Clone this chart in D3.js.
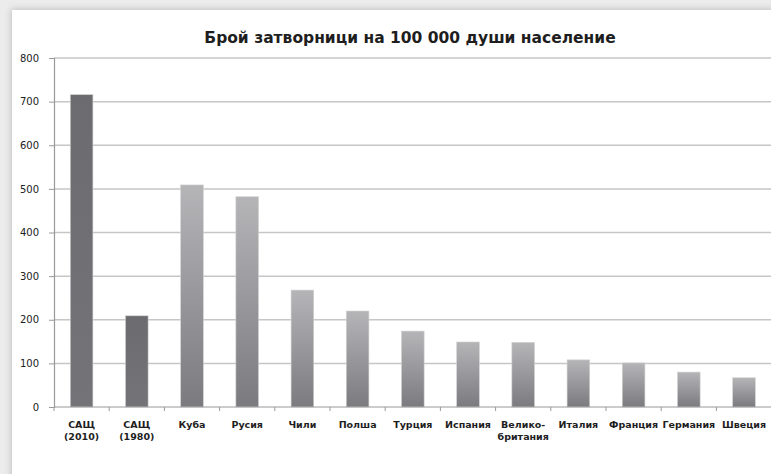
<!DOCTYPE html>
<html lang="bg">
<head>
<meta charset="UTF-8">
<title>Брой затворници</title>
<style>
  html, body { margin: 0; padding: 0; background: #ececec; overflow: hidden; }
  svg { display: block; }
</style>
</head>
<body>
<div id="chart"></div>
<script src="https://d3js.org/d3.v7.min.js"></script>
<script>
  // data
  const categories = ["САЩ|(2010)", "САЩ|(1980)", "Куба", "Русия", "Чили", "Полша", "Турция",
    "Испания", "Велико-|британия", "Италия", "Франция", "Германия", "Швеция"];
  const values = [716, 209, 509, 482, 268, 220, 174, 149, 148, 108, 101, 80, 67];
  const darkBars = [true, true, false, false, false, false, false, false, false, false, false, false, false];
  const yTicks = [0, 100, 200, 300, 400, 500, 600, 700, 800];

  const W = 771, H = 474;
  const plotLeft = 54, plotRight = 54 + 13 * 55.2, plotTop = 58, plotBottom = 407;

  const svg = d3.select("#chart").append("svg").attr("width", W).attr("height", H);
  const defs = svg.append("defs");

  const shadow = defs.append("filter").attr("id", "shadow")
    .attr("x", "-5%").attr("y", "-5%").attr("width", "110%").attr("height", "110%");
  shadow.append("feDropShadow").attr("dx", -1).attr("dy", -1).attr("stdDeviation", 3)
    .attr("flood-color", "#000").attr("flood-opacity", 0.18);

  const grad = defs.append("linearGradient").attr("id", "barGrad")
    .attr("x1", 0).attr("y1", 0).attr("x2", 0).attr("y2", 1);
  grad.append("stop").attr("offset", "0%").attr("stop-color", "#b5b5b8");
  grad.append("stop").attr("offset", "100%").attr("stop-color", "#7b7b7f");

  const gradDark = defs.append("linearGradient").attr("id", "barGradDark")
    .attr("x1", 0).attr("y1", 0).attr("x2", 0).attr("y2", 1);
  gradDark.append("stop").attr("offset", "0%").attr("stop-color", "#6c6c70");
  gradDark.append("stop").attr("offset", "100%").attr("stop-color", "#747478");

  // panel
  svg.append("rect").attr("x", 12).attr("y", 10).attr("width", 820).attr("height", 520)
    .attr("fill", "#fff").attr("filter", "url(#shadow)");

  const x = d3.scaleBand().domain(categories).range([plotLeft, plotRight]).padding(0);
  const y = d3.scaleLinear().domain([0, 800]).range([plotBottom, plotTop]);

  // title
  svg.append("text")
    .attr("x", 410).attr("y", 43)
    .attr("text-anchor", "middle")
    .style("font-family", "DejaVu Sans")
    .style("font-weight", "bold")
    .style("font-size", "15.5px")
    .style("fill", "#1e1e1e")
    .text("Брой затворници на 100 000 души население");

  // gridlines
  svg.append("g").selectAll("line").data(yTicks.filter(d => d > 0)).join("line")
    .attr("x1", plotLeft).attr("x2", W + 10)
    .attr("y1", d => y(d)).attr("y2", d => y(d))
    .style("stroke", "#c6c6c6").style("stroke-width", 1.5);

  // y axis
  const yAxis = svg.append("g").attr("transform", `translate(${plotLeft},0)`)
    .call(d3.axisLeft(y).tickValues(yTicks).tickSize(5).tickPadding(10));
  yAxis.select(".domain").style("stroke", "#999").style("stroke-width", 1.2);
  yAxis.selectAll(".tick line").style("stroke", "#999");
  yAxis.selectAll(".tick text")
    .style("font-family", "DejaVu Sans").style("font-size", "10px").style("fill", "#222");

  // bars
  const barW = x.bandwidth() * 0.41;
  svg.append("g").selectAll("rect").data(categories).join("rect")
    .attr("x", d => x(d) + (x.bandwidth() - barW) / 2)
    .attr("width", barW)
    .attr("y", (d, i) => y(values[i]))
    .attr("height", (d, i) => plotBottom - y(values[i]))
    .attr("fill", (d, i) => darkBars[i] ? "url(#barGradDark)" : "url(#barGrad)")
    .style("stroke", "#d0d0d0").style("stroke-width", 0.6);

  // x axis line and boundary ticks
  svg.append("line").attr("x1", plotLeft).attr("x2", W + 10).attr("y1", plotBottom).attr("y2", plotBottom)
    .style("stroke", "#999").style("stroke-width", 1.2);
  const bounds = categories.map(d => x(d)).concat([plotRight]);
  svg.append("g").selectAll("line").data(bounds).join("line")
    .attr("x1", d => d).attr("x2", d => d)
    .attr("y1", plotBottom).attr("y2", plotBottom + 4)
    .style("stroke", "#999");

  // category labels
  const lbl = svg.append("g").selectAll("text").data(categories).join("text")
    .attr("x", d => x(d) + x.bandwidth() / 2)
    .attr("y", 428)
    .attr("text-anchor", "middle")
    .style("font-family", "DejaVu Sans")
    .style("font-weight", "bold")
    .style("font-size", "9.5px")
    .style("fill", "#1e1e1e");
  lbl.each(function (d) {
    const parts = d.split("|");
    d3.select(this).selectAll("tspan").data(parts).join("tspan")
      .attr("x", d3.select(this).attr("x"))
      .attr("dy", (p, i) => i === 0 ? 0 : 11.5)
      .text(p => p);
  });
</script>
</body>
</html>
